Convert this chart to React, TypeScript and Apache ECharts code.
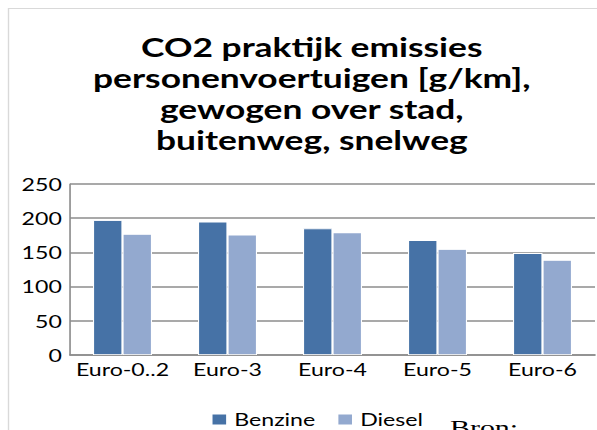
import React, { useEffect, useRef } from "react";
import * as echarts from "echarts";

const categories = ["Euro-0..2", "Euro-3", "Euro-4", "Euro-5", "Euro-6"];
const benzine = [197, 195, 185, 168, 149];
const diesel = [177, 176, 179, 155, 139];
const titleText = "CO2 praktijk emissies\npersonenvoertuigen [g/km],\ngewogen over stad,\nbuitenweg, snelweg";

// The reference is drawn horizontally stretched; we draw at a narrower width and stretch with CSS.
const STRETCH = 1.36;
const INNER_W = 439;

export default function App() {
  const ref = useRef<HTMLDivElement>(null);
  useEffect(() => {
    document.body.style.margin = "0";
    document.body.style.overflow = "hidden";
    const chart = echarts.init(ref.current!, null, { renderer: "svg" });
    const font = "Lato, Carlito, 'Noto Sans', sans-serif";
    const sx = (v: number) => v / STRETCH;
    chart.setOption({
      animation: false,
      backgroundColor: "#ffffff",
      title: {
        text: titleText,
        left: sx(305),
        top: 26,
        textAlign: "center",
        textStyle: {
          fontFamily: font,
          fontWeight: "bold",
          fontSize: 26,
          lineHeight: 31,
          color: "#000",
        },
      },
      legend: {
        left: sx(203),
        top: 406,
        itemWidth: 12,
        itemHeight: 12,
        itemGap: 15,
        icon: "rect",
        textStyle: { fontFamily: font, fontSize: 17, color: "#000" },
        data: ["Benzine", "Diesel"],
      },
      grid: { left: sx(70), right: INNER_W - sx(595), top: 184, bottom: 75, containLabel: false },
      xAxis: {
        type: "category",
        data: categories,
        axisLine: { show: true, lineStyle: { color: "#8c8c8c", width: 1.5 } },
        axisTick: { show: false },
        axisLabel: { show: true, interval: 0, fontFamily: font, fontSize: 17, color: "#000", margin: 6 },
      },
      yAxis: {
        type: "value",
        min: 0,
        max: 250,
        interval: 50,
        axisLine: { show: true, lineStyle: { color: "#8c8c8c", width: 1.2 } },
        axisTick: { show: false },
        axisLabel: { fontFamily: font, fontSize: 17, color: "#000", margin: 6 },
        splitLine: { show: true, lineStyle: { color: "#8c8c8c", width: 1.5 } },
      },
      series: [
        {
          name: "Benzine",
          type: "bar",
          data: benzine,
          barWidth: sx(29.5),
          barGap: "0%",
          itemStyle: { color: "#4672a6", borderColor: "#ffffff", borderWidth: 0.8 },
        },
        {
          name: "Diesel",
          type: "bar",
          data: diesel,
          barWidth: sx(29.5),
          barGap: "0%",
          itemStyle: { color: "#93a9cf", borderColor: "#ffffff", borderWidth: 0.8 },
        },
      ],
      graphic: [
        { type: "line", shape: { x1: sx(8.5), y1: 8, x2: sx(8.5), y2: 430 }, style: { stroke: "#d9d9d9", lineWidth: 1 } },
        { type: "line", shape: { x1: sx(8), y1: 8.5, x2: INNER_W, y2: 8.5 }, style: { stroke: "#d9d9d9", lineWidth: 1 } },
        {
          type: "text",
          x: sx(450),
          y: 417,
          style: { text: "Bron:", font: "22px 'Liberation Serif', 'DejaVu Serif', serif", fill: "#000", textVerticalAlign: "top" },
        },
      ],
    });
    return () => chart.dispose();
  }, []);
  return (
    <div style={{ width: 597, height: 430, overflow: "hidden" }}>
      <div
        ref={ref}
        style={{ width: INNER_W, height: 430, transform: `scaleX(${STRETCH})`, transformOrigin: "0 0" }}
      />
    </div>
  );
}
